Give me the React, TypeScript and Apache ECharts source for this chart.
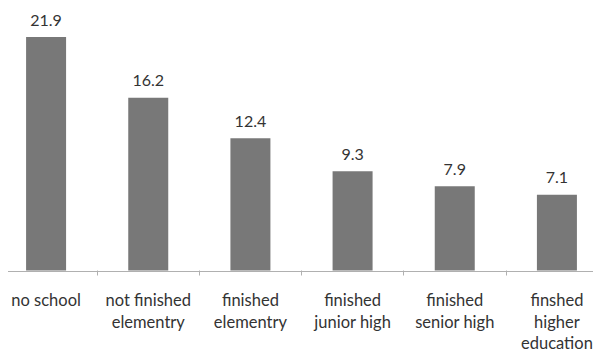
import React, { useEffect, useRef } from "react";
import * as echarts from "echarts";

const categories = [
  "no school",
  "not finished\nelementry",
  "finished\nelementry",
  "finished\njunior high",
  "finished\nsenior high",
  "finshed\nhigher\neducation",
];
const values = [21.9, 16.2, 12.4, 9.3, 7.9, 7.1];

const FONT = "Lato, 'Open Sans', sans-serif";
const AXIS_GRAY = "#b0b0b0";
const GRID_TOP = 4;
const GRID_HEIGHT = 267.5;

export default function App() {
  const ref = useRef<HTMLDivElement>(null);

  useEffect(() => {
    if (!ref.current) return;
    const chart = echarts.init(ref.current, null, { renderer: "svg" });
    chart.setOption({
      animation: false,
      backgroundColor: "#ffffff",
      grid: { left: 0, right: 0, top: GRID_TOP, height: GRID_HEIGHT, containLabel: false },
      xAxis: {
        type: "category",
        data: categories,
        axisLine: { show: false },
        axisTick: { show: true, length: 5, lineStyle: { color: AXIS_GRAY } },
        axisLabel: {
          color: "#333333",
          fontFamily: FONT,
          fontSize: 16.5,
          lineHeight: 21.5,
          margin: 19,
          interval: 0,
        },
      },
      yAxis: {
        type: "value",
        min: 0,
        max: 25,
        show: false,
        splitLine: { show: false },
      },
      // baseline rule, starting a little in from the left edge
      graphic: [
        {
          type: "line",
          shape: { x1: 13, y1: GRID_TOP + GRID_HEIGHT, x2: 613, y2: GRID_TOP + GRID_HEIGHT },
          style: { stroke: AXIS_GRAY, lineWidth: 1 },
          z: 5,
        },
      ],
      series: [
        {
          type: "bar",
          data: values,
          barWidth: 40,
          itemStyle: { color: "#787878" },
          label: {
            show: true,
            position: "top",
            distance: 10,
            color: "#333333",
            fontFamily: FONT,
            fontSize: 16,
            formatter: (p: any) => p.value.toFixed(1),
          },
        },
      ],
    });
    return () => chart.dispose();
  }, []);

  // The plot runs a little past both page edges, so the chart sits in a clipped frame.
  return (
    <div
      style={{
        position: "absolute",
        left: 0,
        top: 0,
        width: 593,
        height: 354,
        overflow: "hidden",
        background: "#fff",
      }}
    >
      <div
        ref={ref}
        style={{ position: "absolute", left: -5, top: 0, width: 613, height: 354 }}
      />
    </div>
  );
}
